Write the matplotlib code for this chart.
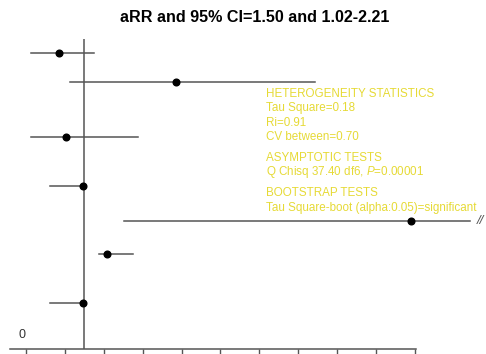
import matplotlib.pyplot as plt

# Study estimates (point, lower, upper) and row positions
row_pos = [9.54, 8.61, 6.85, 5.27, 4.14, 3.07, 1.48]
point = [0.85, 3.86, 1.04, 1.47, 9.89, 2.09, 1.47]
lower = [0.12, 1.12, 0.12, 0.61, 2.52, 1.87, 0.61]
upper = [1.76, 7.43, 2.89, 1.47, 11.41, 2.76, 1.47]

pooled = 1.50
ticks = list(range(0, 11))

stats_lines = [
    ("HETEROGENEITY STATISTICS", 94),
    ("Tau Square=0.18", 108),
    ("Ri=0.91", 122.5),
    ("CV between=0.70", 136.5),
    ("ASYMPTOTIC TESTS", 158),
    ("Q Chisq 37.40 df6, $\\it{P}$=0.00001", 172),
    ("BOOTSTRAP TESTS", 193),
    ("Tau Square-boot (alpha:0.05)=significant", 208),
]

plt.rcParams['font.family'] = ['Liberation Sans', 'DejaVu Sans']
plt.rcParams['mathtext.fontset'] = 'custom'
plt.rcParams['mathtext.it'] = 'Liberation Sans:italic'
W, H = 486, 354
fig = plt.figure(figsize=(W / 100, H / 100), dpi=100)
ax = fig.add_axes([10 / W, 1 - 349 / H, 406 / W, 310 / H])
ax.set_xlim(-0.41, 10.03)
ax.set_ylim(0, 10)

line_col = "#555555"
for y, p, lo, hi in zip(row_pos, point, lower, upper):
    ax.plot([lo, hi], [y, y], color=line_col, lw=1.1, clip_on=False, zorder=2)
    ax.plot(p, y, "o", color="black", ms=4.8, clip_on=False, zorder=3)

ax.axvline(pooled, color=line_col, lw=1.1, zorder=1)

# broken-axis mark for the truncated interval
ax.text(11.58, row_pos[4], "//", color=line_col, fontsize=9.5,
        style="italic", va="center", ha="left", clip_on=False)

for s in ["top", "right", "left"]:
    ax.spines[s].set_visible(False)
ax.spines["bottom"].set_color(line_col)
ax.spines["bottom"].set_linewidth(1.1)
ax.set_yticks([])
ax.set_xticks(ticks)
ax.tick_params(axis="x", direction="out", length=4, width=1, color=line_col,
               labelbottom=False)
ax.text(-0.1, 0.25, "0", fontsize=9, color="#333333", ha="center", va="bottom")

for txt, ypx in stats_lines:
    fig.text(266 / W, 1 - ypx / H, txt, fontsize=8.4, color="#E6DA36",
             ha="left", va="center")

fig.text(255 / W, 1 - 18 / H, "aRR and 95% CI=1.50 and 1.02-2.21",
         fontsize=11.6, fontweight="bold", ha="center", va="center")

fig.savefig("out.png", dpi=100)
